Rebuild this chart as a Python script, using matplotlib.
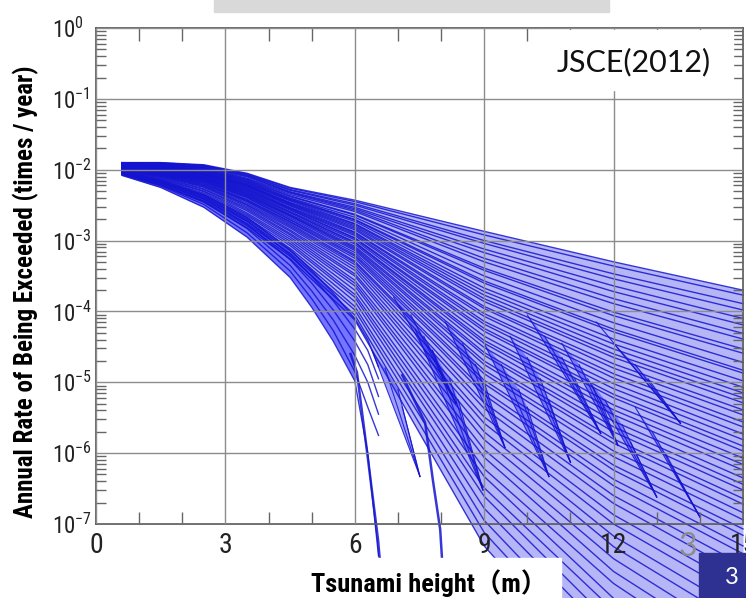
#!/usr/bin/env python3
import numpy as np
import matplotlib
matplotlib.use('Agg')
import matplotlib.pyplot as plt
from matplotlib import font_manager
from matplotlib.patches import Rectangle
from matplotlib.ticker import FixedLocator, MultipleLocator, LogLocator, FuncFormatter, NullFormatter


# tsunami heights (m) where the hazard curves were read
height_knots = [0.6, 1.5, 2.5, 3.5, 4.5, 6.0, 9.0, 12.0, 15.0]

# log10(annual rate) at each knot, top of the fan
fan_upper = [
    [-1.90, -1.90, -1.93, -2.05, -2.25, -2.43, -2.87, -3.30, -3.70],
    [-1.90, -1.90, -1.94, -2.06, -2.26, -2.45, -2.92, -3.36, -3.77],
    [-1.91, -1.91, -1.94, -2.07, -2.28, -2.48, -3.00, -3.47, -3.89],
    [-1.90, -1.91, -1.95, -2.08, -2.29, -2.50, -3.04, -3.54, -3.98],
    [-1.92, -1.92, -1.96, -2.09, -2.31, -2.53, -3.12, -3.64, -4.10],
    [-1.91, -1.92, -1.97, -2.10, -2.32, -2.55, -3.17, -3.72, -4.19],
    [-1.92, -1.93, -1.97, -2.12, -2.33, -2.57, -3.25, -3.82, -4.31],
    [-1.92, -1.93, -1.98, -2.13, -2.35, -2.59, -3.30, -3.89, -4.39],
    [-1.93, -1.94, -1.99, -2.14, -2.37, -2.63, -3.39, -4.01, -4.53],
    [-1.92, -1.94, -2.00, -2.15, -2.38, -2.64, -3.42, -4.06, -4.59],
    [-1.93, -1.95, -2.00, -2.16, -2.40, -2.67, -3.50, -4.16, -4.72],
    [-1.93, -1.95, -2.01, -2.17, -2.41, -2.70, -3.57, -4.25, -4.83],
    [-1.94, -1.95, -2.02, -2.18, -2.42, -2.71, -3.60, -4.29, -4.87],
    [-1.93, -1.96, -2.02, -2.19, -2.43, -2.73, -3.67, -4.39, -4.98],
    [-1.94, -1.96, -2.03, -2.20, -2.44, -2.76, -3.72, -4.46, -5.07],
    [-1.94, -1.97, -2.04, -2.21, -2.46, -2.77, -3.77, -4.53, -5.15],
    [-1.93, -1.97, -2.04, -2.22, -2.47, -2.79, -3.82, -4.60, -5.22],
]

fan_middle = [
    [-1.94, -1.97, -2.05, -2.22, -2.48, -2.81, -3.86, -4.65, -5.29],
    [-1.95, -1.98, -2.06, -2.23, -2.49, -2.83, -3.93, -4.74, -5.39],
    [-1.94, -1.98, -2.06, -2.24, -2.50, -2.85, -3.96, -4.80, -5.46],
    [-1.95, -1.98, -2.07, -2.25, -2.51, -2.88, -4.03, -4.88, -5.56],
    [-1.95, -1.99, -2.07, -2.26, -2.53, -2.89, -4.07, -4.94, -5.63],
    [-1.94, -1.99, -2.08, -2.27, -2.54, -2.91, -4.14, -5.02, -5.73],
    [-1.96, -2.00, -2.09, -2.28, -2.55, -2.93, -4.18, -5.09, -5.81],
    [-1.95, -2.00, -2.09, -2.29, -2.56, -2.96, -4.24, -5.17, -5.90],
    [-1.96, -2.00, -2.10, -2.30, -2.57, -2.97, -4.28, -5.22, -5.97],
    [-1.95, -2.01, -2.11, -2.31, -2.59, -2.99, -4.35, -5.32, -6.07],
    [-1.96, -2.01, -2.11, -2.32, -2.60, -3.02, -4.41, -5.39, -6.16],
    [-1.97, -2.02, -2.12, -2.33, -2.61, -3.03, -4.45, -5.46, -6.24],
    [-1.96, -2.02, -2.13, -2.34, -2.63, -3.05, -4.51, -5.55, -6.35],
    [-1.97, -2.02, -2.13, -2.35, -2.64, -3.08, -4.58, -5.63, -6.44],
    [-1.97, -2.03, -2.14, -2.36, -2.65, -3.10, -4.62, -5.70, -6.52],
    [-1.96, -2.03, -2.15, -2.37, -2.66, -3.12, -4.70, -5.80, -6.64],
    [-1.97, -2.04, -2.16, -2.38, -2.68, -3.14, -4.75, -5.86, -6.72],
    [-1.98, -2.04, -2.16, -2.39, -2.70, -3.17, -4.83, -5.97, -6.84],
    [-1.97, -2.05, -2.17, -2.40, -2.71, -3.20, -4.88, -6.05, -6.94],
    [-1.98, -2.05, -2.18, -2.42, -2.73, -3.22, -4.97, -6.17, -7.07],
    [-1.98, -2.06, -2.19, -2.43, -2.74, -3.25, -5.02, -6.24, -7.16],
    [-1.99, -2.06, -2.20, -2.44, -2.76, -3.29, -5.12, -6.37, -7.31],
]

fan_lower = [
    [-1.99, -2.07, -2.21, -2.45, -2.78, -3.31, -5.18, -6.46, -7.42],
    [-1.98, -2.07, -2.22, -2.47, -2.80, -3.34, -5.29, -6.60, -7.58],
    [-1.99, -2.08, -2.23, -2.49, -2.82, -3.38, -5.37, -6.71, -7.72],
    [-2.00, -2.09, -2.24, -2.50, -2.85, -3.42, -5.49, -6.87, -7.90],
    [-2.00, -2.09, -2.25, -2.52, -2.87, -3.47, -5.58, -7.00, -8.05],
    [-2.01, -2.10, -2.27, -2.54, -2.90, -3.50, -5.70, -7.17, -8.25],
    [-2.00, -2.11, -2.28, -2.56, -2.92, -3.56, -5.81, -7.32, -8.43],
    [-2.01, -2.12, -2.30, -2.58, -2.95, -3.60, -5.95, -7.49, -8.64],
    [-2.02, -2.13, -2.31, -2.61, -2.98, -3.64, -6.06, -7.67, -8.84],
    [-2.02, -2.14, -2.33, -2.63, -3.01, -3.70, -6.22, -7.84, -9.05],
    [-2.03, -2.15, -2.35, -2.65, -3.04, -3.76, -6.33, -8.05, -9.28],
    [-2.03, -2.16, -2.36, -2.68, -3.07, -3.80, -6.49, -8.22, -9.50],
    [-2.04, -2.17, -2.38, -2.70, -3.11, -3.86, -6.61, -8.43, -9.72],
    [-2.04, -2.18, -2.40, -2.73, -3.14, -3.93, -6.78, -8.63, -9.98],
    [-2.05, -2.19, -2.42, -2.76, -3.18, -3.98, -6.95, -8.87, -10.24],
    [-2.06, -2.21, -2.44, -2.79, -3.22, -4.05, -7.12, -9.10, -10.54],
    [-2.06, -2.22, -2.46, -2.82, -3.26, -4.12, -7.31, -9.36, -10.83],
]

# steep branches forming the lower edge around 5-6.5 m
steep_heights = [0.6, 1.5, 2.5, 3.5, 4.5, 5.0, 5.5, 6.0, 6.3, 6.55]
steep_curves = [
    [-2.08, -2.25, -2.53, -2.95, -3.52, -3.94, -4.42, -4.98, -6.00, -7.45],
    [-2.07, -2.23, -2.49, -2.89, -3.43, -3.82, -4.27, -4.85, -5.35, -5.75],
    [-2.06, -2.21, -2.45, -2.83, -3.35, -3.71, -4.12, -4.62, -5.00, -5.45],
    [-2.05, -2.19, -2.41, -2.77, -3.27, -3.60, -3.98, -4.42, -4.75, -5.20],
    [-2.04, -2.17, -2.38, -2.72, -3.20, -3.50, -3.85, -4.25, -4.55, -4.95],
    [-2.03, -2.15, -2.35, -2.67, -3.13, -3.42, -3.74, -4.10, -4.40, -4.78],
]

# two long truncated branches running below 1e-7
long_heights = [[5.90, 6.05, 6.28, 6.54, 6.58], [7.10, 7.63, 7.81, 7.98, 8.02]]
long_logs = [[-4.60, -4.86, -5.96, -7.23, -7.51], [-4.90, -5.57, -6.38, -7.08, -7.47]]

# truncation wedges: tip and root points on the fan
spike_tip_x = [7.51, 8.35, 8.97, 9.48, 10.50, 11.00, 11.70, 12.10, 13.00, 13.55, 14.00]
spike_tip_y = [-6.33, -5.30, -6.52, -5.92, -6.33, -6.13, -5.72, -5.89, -6.62, -5.58, -6.90]
spike_root_x = [[6.4, 6.7, 7.0, 7.1], [6.9, 7.3, 7.6, 7.8], [7.4, 7.8, 8.2, 8.4], [8.1, 8.5, 8.8, 9.0],
                [9.0, 9.4, 9.8, 10.0], [9.6, 10.0, 10.3, 10.5], [10.0, 10.4, 10.8, 11.1],
                [10.8, 11.2, 11.5, 11.7], [11.4, 11.8, 12.2, 12.4], [11.6, 12.0, 12.5, 12.8],
                [12.5, 12.9, 13.2, 13.4]]
spike_root_y = [[-4.55, -4.80, -5.10, -5.35], [-3.80, -4.05, -4.35, -4.55], [-4.25, -4.55, -4.95, -5.25],
                [-4.15, -4.45, -4.75, -5.00], [-4.45, -4.75, -5.10, -5.35], [-4.35, -4.65, -4.95, -5.25],
                [-4.05, -4.35, -4.65, -4.95], [-4.45, -4.75, -5.05, -5.25], [-4.95, -5.25, -5.60, -5.85],
                [-4.15, -4.45, -4.75, -4.95], [-5.35, -5.70, -6.00, -6.25]]

x_ticks = [0, 3, 6, 9, 12, 15]


def pick_fonts():
    entries = font_manager.fontManager.ttflist
    names = {f.name for f in entries}
    narrow, stretch = 'Liberation Sans', 'normal'
    for n in ['Liberation Sans Narrow', 'Roboto Condensed', 'DejaVu Sans Condensed']:
        if n in names:
            narrow = n
            break
    else:
        if any(f.name == 'DejaVu Sans' and str(f.stretch) == 'condensed' for f in entries):
            narrow, stretch = 'DejaVu Sans', 'condensed'
    slide = 'Lato' if 'Lato' in names else 'Open Sans'
    return narrow, stretch, slide


def main():
    narrow, stretch, slide = pick_fonts()
    plt.rcParams['font.family'] = [narrow, 'DejaVu Sans']
    plt.rcParams['font.stretch'] = stretch

    fig = plt.figure(figsize=(7.46, 5.98), dpi=100)
    ax = fig.add_axes([96 / 746, 74 / 598, 647 / 746, 496 / 598])

    line_kw = dict(color='#1414d0', alpha=0.85, clip_on=False)

    fan = fan_upper + fan_middle + fan_lower
    rates = [np.power(10.0, row) for row in fan]
    for hi, lo in zip(rates[:-1], rates[1:]):
        ax.fill_between(height_knots, lo, hi, color='#3535e8', alpha=0.36, lw=0, clip_on=False)
    for r in rates:
        ax.plot(height_knots, r, lw=1.0, **line_kw)

    steep = [np.power(10.0, row) for row in steep_curves]
    ax.fill_between(steep_heights[:8], steep[0][:8], steep[-1][:8], color='#1a1aff', alpha=0.6,
                    lw=0, clip_on=False)
    for r in steep:
        ax.plot(steep_heights, r, lw=1.0, **line_kw)

    for hx, hy in zip(long_heights, long_logs):
        ax.plot(hx, np.power(10.0, hy), lw=1.8, **line_kw)

    for tx, ty, rxs, rys in zip(spike_tip_x, spike_tip_y, spike_root_x, spike_root_y):
        ax.fill(rxs + [tx], np.power(10.0, rys + [ty]), color='#2a2aff', alpha=0.45, lw=0, clip_on=False)
        for rx, ry in zip(rxs, rys):
            ax.plot([rx, tx], np.power(10.0, [ry, ty]), lw=0.8, **line_kw)

    ax.set_yscale('log')
    ax.set_xlim(0, 15)
    ax.set_ylim(1e-7, 1)
    ax.xaxis.set_major_locator(FixedLocator(x_ticks))
    ax.xaxis.set_minor_locator(MultipleLocator(1))
    ax.yaxis.set_major_locator(LogLocator(base=10, numticks=10))
    ax.yaxis.set_minor_locator(LogLocator(base=10, subs=np.arange(2, 10), numticks=30))
    ax.yaxis.set_minor_formatter(NullFormatter())
    ax.yaxis.set_major_formatter(FuncFormatter(lambda v, p: r'$\mathregular{10^{%d}}$' % round(np.log10(v))))

    ax.grid(True, which='major', color='#8c8c8c', lw=1.0)
    ax.set_axisbelow(False)
    for s in ax.spines.values():
        s.set_color('#555555')
        s.set_linewidth(1.2)
    ax.tick_params(which='both', direction='in', top=True, right=True, color='#666666', labelcolor='#222222')
    ax.tick_params(which='major', length=0)
    ax.tick_params(axis='x', which='minor', length=9, width=1)
    ax.tick_params(axis='y', which='minor', length=7, width=1)
    ax.tick_params(axis='x', which='major', labelsize=20, pad=6)
    ax.tick_params(axis='y', which='major', labelsize=16.5, pad=32)
    plt.setp(ax.get_yticklabels(), ha='left')

    # slide decorations around the chart
    fig.patches.append(Rectangle((214 / 746, 1 - 12 / 598), 395 / 746, 12 / 598,
                                 transform=fig.transFigure, color='#d9d9d9', zorder=5))
    fig.patches.append(Rectangle((539 / 746, 1 - 90 / 598), 194 / 746, 60 / 598,
                                 transform=fig.transFigure, color='white', zorder=5))
    fig.patches.append(Rectangle((290 / 746, 0), 271 / 746, 40 / 598,
                                 transform=fig.transFigure, color='white', zorder=5))
    fig.patches.append(Rectangle((699 / 746, 0), 47 / 746, 45 / 598,
                                 transform=fig.transFigure, color='#2e3192', zorder=5))

    fig.text(634 / 746, 1 - 62 / 598, 'JSCE(2012)', ha='center', va='center',
             fontsize=22, family=slide, color='#111111', zorder=6)
    fig.text(26 / 746, 1 - 292 / 598, 'Annual Rate of Being Exceeded (times / year)',
             rotation=90, ha='center', va='center', fontsize=18, fontweight='bold', zorder=6)
    fig.text(429 / 746, 1 - 592 / 598, 'Tsunami height（m）', ha='center', va='baseline',
             fontsize=19, fontweight='bold', family=[narrow, 'Noto Sans CJK JP'], zorder=6)
    fig.text(688 / 746, 1 - 547 / 598, '3', ha='center', va='center',
             fontsize=23, family=slide, color='#8c8c8c', zorder=6)
    fig.text(732 / 746, 1 - 578 / 598, '3', ha='center', va='center',
             fontsize=17, family=slide, color='white', zorder=6)

    fig.savefig('out.png', dpi=100)


if __name__ == "__main__":
    main()
